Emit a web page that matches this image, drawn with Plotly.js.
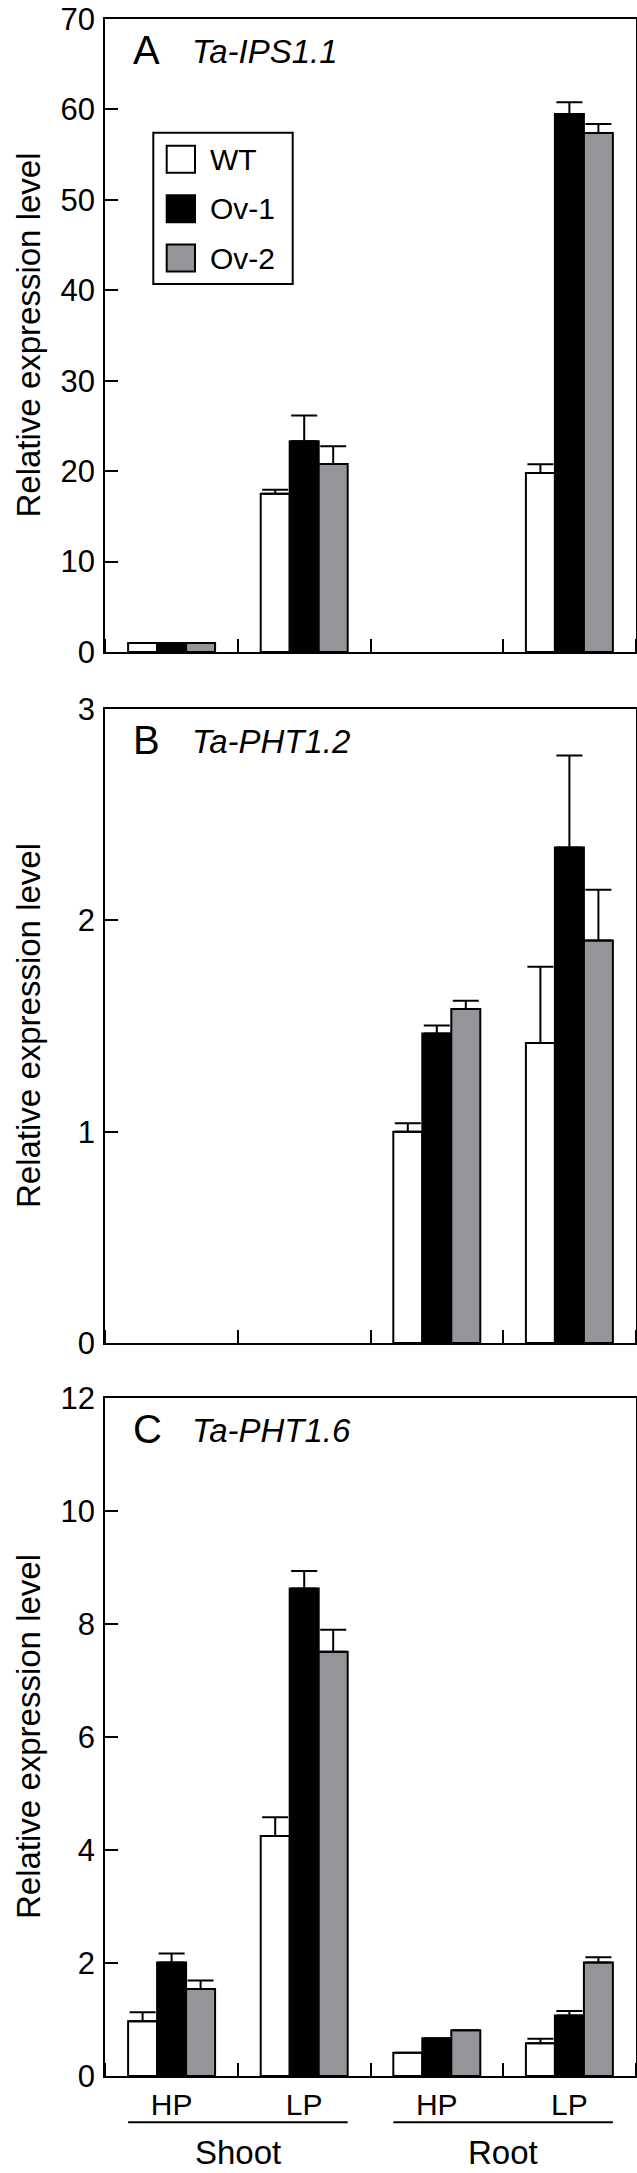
<!DOCTYPE html>
<html>
<head>
<meta charset="utf-8">
<script src="https://cdn.plot.ly/plotly-3.0.1.min.js"></script>
<style>
  body { margin: 0; background: #fff; }
  #chart { width: 637px; height: 2173px; }
</style>
</head>
<body>
<div id="chart"></div>
<script>
// x groups (same in every panel)
const tissues = ['Shoot', 'Shoot', 'Root', 'Root'];
const conditions = ['HP', 'LP', 'HP', 'LP'];
const lines = ['WT', 'Ov-1', 'Ov-2'];

const panelLetters = ['A', 'B', 'C'];
const genes = ['Ta-IPS1.1', 'Ta-PHT1.2', 'Ta-PHT1.6'];
const yMax = [70, 3, 12];
const yStep = [10, 1, 2];

// A  Ta-IPS1.1  (null = no bar drawn in the figure)
const ipsWT = [1.0, 17.5, null, 19.8];
const ipsOv1 = [1.0, 23.3, null, 59.5];
const ipsOv2 = [1.0, 20.8, null, 57.4];
const ipsErrWT = [null, 0.45, null, 0.95];
const ipsErrOv1 = [null, 2.85, null, 1.3];
const ipsErrOv2 = [null, 1.95, null, 1.0];

// B  Ta-PHT1.2
const pht12WT = [null, null, 1.0, 1.42];
const pht12Ov1 = [null, null, 1.465, 2.345];
const pht12Ov2 = [null, null, 1.58, 1.905];
const pht12ErrWT = [null, null, 0.04, 0.36];
const pht12ErrOv1 = [null, null, 0.037, 0.435];
const pht12ErrOv2 = [null, null, 0.04, 0.24];

// C  Ta-PHT1.6
const pht16WT = [0.97, 4.25, 0.41, 0.58];
const pht16Ov1 = [2.01, 8.63, 0.67, 1.07];
const pht16Ov2 = [1.54, 7.51, 0.81, 2.01];
const pht16ErrWT = [0.16, 0.33, null, 0.08];
const pht16ErrOv1 = [0.16, 0.31, null, 0.08];
const pht16ErrOv2 = [0.15, 0.39, null, 0.09];

const values = [
  [ipsWT, ipsOv1, ipsOv2],
  [pht12WT, pht12Ov1, pht12Ov2],
  [pht16WT, pht16Ov1, pht16Ov2]
];
const errors = [
  [ipsErrWT, ipsErrOv1, ipsErrOv2],
  [pht12ErrWT, pht12ErrOv1, pht12ErrOv2],
  [pht16ErrWT, pht16ErrOv1, pht16ErrOv2]
];

const fills = ['#ffffff', '#000000', '#939598'];
const FONT = 'Liberation Sans, Arial, Helvetica, sans-serif';
const W = 637, H = 2173;
const BARGAP = 0.344;

// pixel helpers (paper coords)
const px = v => v / W;
const py = v => 1 - v / H;

// panel frames in pixels: [top, bottom]
const frames = [[19, 652], [709, 1343], [1398, 2076]];
const xLeft = 105.3, xRight = 635.7;

const xs = conditions.map((_, i) => i);
const data = [];
values.forEach((panel, p) => {
  const sfx = p ? String(p + 1) : '';
  panel.forEach((ys, j) => {
    data.push({
      type: 'bar',
      name: lines[j],
      x: xs,
      y: ys,
      xaxis: 'x' + sfx,
      yaxis: 'y' + sfx,
      showlegend: false,
      marker: { color: fills[j], line: { color: '#000', width: 2 } },
      error_y: {
        type: 'data', symmetric: false,
        array: errors[p][j],
        arrayminus: ys.map(() => 0),
        color: '#000', thickness: 2, width: 13
      },
      hoverinfo: 'x+y'
    });
  });
});

const layout = {
  width: W, height: H,
  margin: { l: 0, r: 0, t: 0, b: 0 },
  paper_bgcolor: '#fff', plot_bgcolor: '#fff',
  font: { family: FONT, color: '#000' },
  barmode: 'group', bargap: BARGAP, bargroupgap: 0,
  showlegend: false,
  annotations: [], shapes: []
};

frames.forEach(([top, bottom], p) => {
  const sfx = p ? String(p + 1) : '';
  layout['xaxis' + sfx] = {
    domain: [px(xLeft), px(xRight)],
    anchor: 'y' + sfx,
    type: 'linear', range: [-0.5, 3.5],
    tickmode: 'array', tickvals: xs, ticktext: conditions,
    ticks: '', showticklabels: p === 2,
    ticklabelstandoff: 1,
    ticklabeloverflow: 'allow',
    tickfont: { size: 30 },
    minor: { tickmode: 'linear', tick0: 0.5, dtick: 1, ticks: 'inside',
             ticklen: 13, tickwidth: 2, tickcolor: '#000' },
    showline: true, linewidth: 2, linecolor: '#000', mirror: true,
    showgrid: false, zeroline: false, fixedrange: true
  };
  layout['yaxis' + sfx] = {
    domain: [py(bottom), py(top)],
    anchor: 'x' + sfx,
    range: [0, yMax[p]], tick0: 0, dtick: yStep[p],
    ticks: 'inside', ticklen: 13, tickwidth: 2, tickcolor: '#000',
    ticklabelstandoff: 2,
    ticklabeloverflow: 'allow',
    tickfont: { size: 31 },
    showline: true, linewidth: 2, linecolor: '#000', mirror: true,
    showgrid: false, zeroline: false, fixedrange: true
  };

  // panel letter and gene name
  layout.annotations.push({
    xref: 'paper', yref: 'paper', x: px(131), y: py(top + 31),
    xanchor: 'left', yanchor: 'middle', showarrow: false,
    text: panelLetters[p], font: { size: 40 }
  });
  layout.annotations.push({
    xref: 'paper', yref: 'paper', x: px(190), y: py(top + 32),
    xanchor: 'left', yanchor: 'middle', showarrow: false,
    text: '<i>' + genes[p] + '</i>', font: { size: 33 }
  });
  // y title
  layout.annotations.push({
    xref: 'paper', yref: 'paper', x: px(28), y: py((top + bottom) / 2),
    xanchor: 'center', yanchor: 'middle', showarrow: false, textangle: -90,
    text: 'Relative expression level', font: { size: 33 }
  });
});

// legend (panel A)
layout.shapes.push({
  type: 'rect', xref: 'paper', yref: 'paper',
  x0: px(153.3), x1: px(292.7), y0: py(132.7), y1: py(284),
  line: { color: '#000', width: 2 }, fillcolor: 'rgba(0,0,0,0)'
});
lines.forEach((name, j) => {
  const cy = 159.3 + j * 49.4;
  layout.shapes.push({
    type: 'rect', xref: 'paper', yref: 'paper',
    x0: px(166.7), x1: px(195), y0: py(cy - 13.5), y1: py(cy + 13.5),
    line: { color: '#000', width: 2 }, fillcolor: fills[j]
  });
  layout.annotations.push({
    xref: 'paper', yref: 'paper', x: px(208), y: py(cy),
    xanchor: 'left', yanchor: 'middle', showarrow: false,
    text: name, font: { size: 30 }
  });
});

// tissue underlines and labels under panel C
const halfGroup = (1 - BARGAP) / 2;
[...new Set(tissues)].forEach(t => {
  const idx = tissues.map((v, i) => v === t ? i : -1).filter(i => i >= 0);
  const first = Math.min(...idx), last = Math.max(...idx);
  layout.shapes.push({
    type: 'line', xref: 'x3', yref: 'paper',
    x0: first - halfGroup, x1: last + halfGroup, y0: py(2122.3), y1: py(2122.3),
    line: { color: '#000', width: 2 }
  });
  layout.annotations.push({
    xref: 'x3', yref: 'paper', x: (first + last) / 2, y: py(2152),
    xanchor: 'center', yanchor: 'middle', showarrow: false,
    text: t, font: { size: 33 }
  });
});

Plotly.newPlot('chart', data, layout, { displayModeBar: false, staticPlot: true });
</script>
</body>
</html>
